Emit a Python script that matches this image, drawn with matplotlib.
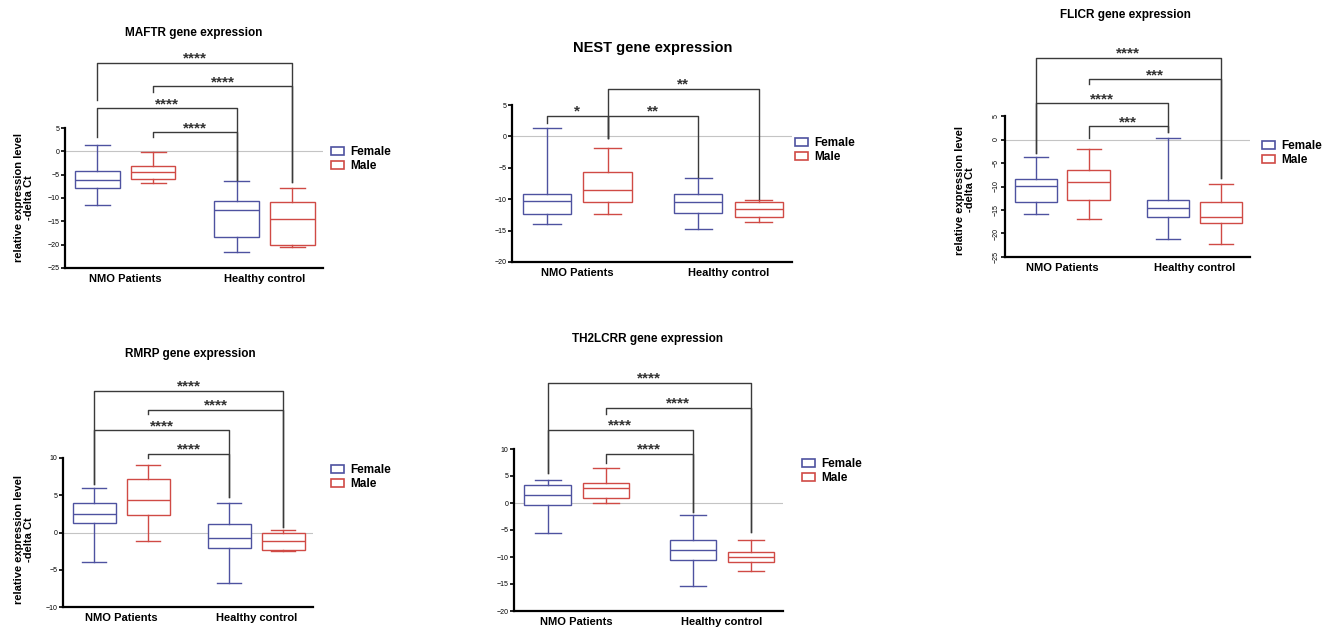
import matplotlib
matplotlib.use("Agg")
import matplotlib.pyplot as plt
from matplotlib.patches import Patch

plt.rcParams['font.family'] = ['Liberation Sans', 'DejaVu Sans']

W, H = 1336, 632

groups = ["NMO Patients", "Healthy control"]
sexes = ["Female", "Male"]

# box order: NMO female, NMO male, HC female, HC male
maftr_lo = [-11.4, -6.8, -21.6, -20.6]
maftr_q1 = [-7.9, -6.0, -18.4, -20.1]
maftr_med = [-6.2, -4.5, -12.5, -14.4]
maftr_q3 = [-4.3, -3.2, -10.7, -10.9]
maftr_hi = [1.3, -0.2, -6.4, -7.9]

nest_lo = [-13.9, -12.4, -14.8, -13.7]
nest_q1 = [-12.3, -10.4, -12.2, -12.8]
nest_med = [-10.3, -8.6, -10.5, -11.5]
nest_q3 = [-9.1, -5.6, -9.2, -10.5]
nest_hi = [1.3, -1.8, -6.7, -10.2]

flicr_lo = [-15.8, -17.0, -21.1, -22.3]
flicr_q1 = [-13.4, -12.8, -16.5, -17.8]
flicr_med = [-9.8, -9.1, -14.5, -16.4]
flicr_q3 = [-8.3, -6.4, -12.8, -13.4]
flicr_hi = [-3.8, -2.1, 0.4, -9.4]

rmrp_lo = [-4.0, -1.1, -6.8, -2.5]
rmrp_q1 = [1.3, 2.4, -2.1, -2.4]
rmrp_med = [2.5, 4.3, -0.8, -1.1]
rmrp_q3 = [3.9, 7.2, 1.2, -0.1]
rmrp_hi = [6.0, 9.1, 3.9, 0.4]

th2_lo = [-5.6, 0.0, -15.4, -12.6]
th2_q1 = [-0.4, 1.0, -10.6, -10.9]
th2_med = [1.5, 2.8, -8.7, -10.0]
th2_q3 = [3.3, 3.7, -6.8, -9.0]
th2_hi = [4.3, 6.5, -2.2, -6.8]

# significance brackets: (box a, box b, bar level, left leg end, right leg end, label)
maftr_sig = [(0, 3, 18.9, 10.9, -6.6, "****"), (1, 3, 13.9, 12.7, -6.6, "****"),
             (0, 2, 9.2, 3.0, -6.2, "****"), (1, 2, 4.1, 3.0, -6.2, "****")]
nest_sig = [(0, 1, 3.3, 2.2, -0.3, "*"), (1, 2, 3.3, -0.3, -6.5, "**"),
            (1, 3, 7.6, -0.3, -9.9, "**")]
flicr_sig = [(0, 3, 17.4, -2.8, -8.1, "****"), (1, 3, 12.8, 11.9, -8.1, "***"),
             (0, 2, 7.7, -2.8, 1.5, "****"), (1, 2, 2.8, 0.4, 1.5, "***")]
rmrp_sig = [(0, 3, 19.0, 6.5, 0.7, "****"), (1, 3, 16.5, 15.9, 0.7, "****"),
            (0, 2, 13.7, 6.5, 4.7, "****"), (1, 2, 10.6, 10.0, 4.7, "****")]
th2_sig = [(0, 3, 22.2, 5.5, -5.4, "****"), (1, 3, 17.6, 16.5, -5.4, "****"),
           (0, 2, 13.5, 5.5, -1.7, "****"), (1, 2, 9.1, 7.4, -1.7, "****")]

POS = [1, 2, 3.5, 4.5]
FEMALE = '#4e52a0'
MALE = '#d04a45'
COLORS = [FEMALE, MALE, FEMALE, MALE]
YLABEL = "relative expression level\n-delta Ct"

fig = plt.figure(figsize=(W / 100, H / 100), dpi=100)


def px_axes(l, t, r, b):
    return fig.add_axes([l / W, 1 - b / H, (r - l) / W, (b - t) / H])


def draw_panel(box, lo, q1, med, q3, hi, sig, ylim, yticks, title, title_xy,
               title_size, legend_xy, ylabel_xy=None, rotate=False):
    ax = px_axes(*box)
    stats = [dict(whislo=lo[i], q1=q1[i], med=med[i], q3=q3[i], whishi=hi[i], fliers=[])
             for i in range(4)]
    bp = ax.bxp(stats, positions=POS, widths=0.8, capwidths=0.45, showfliers=False,
                patch_artist=True)
    for i, c in enumerate(COLORS):
        bp['boxes'][i].set(facecolor='white', edgecolor=c, linewidth=1.0)
        bp['medians'][i].set(color=c, linewidth=1.0)
        for k in (2 * i, 2 * i + 1):
            bp['whiskers'][k].set(color=c, linewidth=1.0)
            bp['caps'][k].set(color=c, linewidth=1.0)
    ax.axhline(0, color='#c4c4c4', lw=0.8, zorder=0)

    for a, b, y, yl, yr, txt in sig:
        ax.plot([POS[a], POS[a], POS[b], POS[b]], [yl, y, y, yr], color='#3a3a3a',
                lw=1.0, clip_on=False)
        ax.annotate(txt, ((POS[a] + POS[b]) / 2, y), xytext=(0, -2),
                    textcoords='offset points', ha='center', va='bottom',
                    fontsize=11, fontweight='bold', color='#333333',
                    annotation_clip=False)

    ax.set_xlim(0.42, 5.05)
    ax.set_ylim(*ylim)
    ax.set_yticks(yticks)
    ax.set_xticks([(POS[0] + POS[1]) / 2, (POS[2] + POS[3]) / 2])
    ax.set_xticklabels(groups, fontsize=8, fontweight='bold')
    ax.tick_params(axis='x', length=0, pad=4.5)
    ax.tick_params(axis='y', length=3, width=1.2, labelsize=5, pad=1)
    if rotate:
        for lab in ax.get_yticklabels():
            lab.set_rotation(90)
            lab.set_va('center')
    for s in ('top', 'right'):
        ax.spines[s].set_visible(False)
    for s in ('left', 'bottom'):
        ax.spines[s].set_linewidth(1.6)

    fig.text(title_xy[0] / W, 1 - title_xy[1] / H, title, ha='center', va='center',
             fontsize=title_size, fontweight='bold')
    if ylabel_xy is not None:
        fig.text(ylabel_xy[0] / W, 1 - ylabel_xy[1] / H, YLABEL, rotation=90,
                 ha='center', va='center', fontsize=8, fontweight='bold',
                 multialignment='center', linespacing=1.1)
    handles = [Patch(facecolor='white', edgecolor=FEMALE, lw=1.2),
               Patch(facecolor='white', edgecolor=MALE, lw=1.2)]
    fig.legend(handles, sexes, loc='center left',
               bbox_to_anchor=(legend_xy[0] / W, 1 - legend_xy[1] / H),
               frameon=False, prop={'weight': 'bold', 'size': 8.5},
               handlelength=1.1, handleheight=0.7, handletextpad=0.5,
               labelspacing=0.2, borderaxespad=0, borderpad=0)
    return ax


draw_panel((65, 128, 323, 268), maftr_lo, maftr_q1, maftr_med, maftr_q3, maftr_hi,
           maftr_sig, (-25, 5), [5, 0, -5, -10, -15, -20, -25], "MAFTR gene expression",
           (194, 33), 8.5, (331, 159), ylabel_xy=(24, 198))
draw_panel((512, 105, 792, 262), nest_lo, nest_q1, nest_med, nest_q3, nest_hi,
           nest_sig, (-20, 5), [5, 0, -5, -10, -15, -20], "NEST gene expression",
           (653, 48), 10.5, (795, 150))
draw_panel((1005, 116, 1250, 257), flicr_lo, flicr_q1, flicr_med, flicr_q3, flicr_hi,
           flicr_sig, (-25, 5), [5, 0, -5, -10, -15, -20, -25], "FLICR gene expression",
           (1125, 15), 8.5, (1262, 153), ylabel_xy=(965, 190), rotate=True)
draw_panel((63, 458, 313, 607), rmrp_lo, rmrp_q1, rmrp_med, rmrp_q3, rmrp_hi,
           rmrp_sig, (-10, 10), [10, 5, 0, -5, -10], "RMRP gene expression",
           (190, 354), 8.5, (331, 477), ylabel_xy=(24, 540))
draw_panel((514, 449, 783, 611), th2_lo, th2_q1, th2_med, th2_q3, th2_hi,
           th2_sig, (-20, 10), [10, 5, 0, -5, -10, -15, -20], "TH2LCRR gene expression",
           (648, 339), 8.5, (802, 471))

fig.savefig("out.png", dpi=100, facecolor='white')
